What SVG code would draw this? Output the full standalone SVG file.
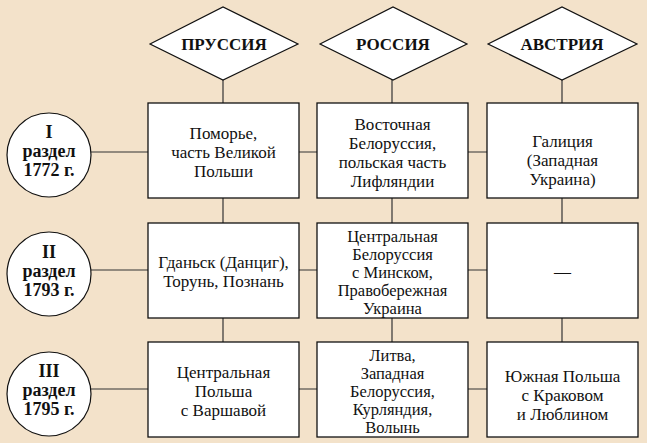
<svg xmlns="http://www.w3.org/2000/svg" width="647" height="443" viewBox="0 0 647 443">
<style>
.bg{fill:#F3E2CA}
.box{fill:#fff;stroke:#111;stroke-width:1.3}
.dia{fill:#fff;stroke:#111;stroke-width:1.2}
.cir{fill:#fff;stroke:#111;stroke-width:1.2}
.con line{stroke:#333;stroke-width:1.2}
.t{font-family:"Liberation Serif","Times New Roman",serif;font-size:17px;fill:#111;text-anchor:middle}
.s{font-size:16.5px}
.h{font-family:"Liberation Serif","Times New Roman",serif;font-size:17px;font-weight:bold;fill:#111;text-anchor:middle}
.c{font-family:"Liberation Serif","Times New Roman",serif;font-size:18px;font-weight:bold;fill:#111;text-anchor:middle}
</style>
<rect class="bg" x="0" y="0" width="647" height="443"/>
<g id="connectors" class="con">
<line x1="223" y1="80" x2="223" y2="342"/>
<line x1="392" y1="80" x2="392" y2="342"/>
<line x1="562" y1="80" x2="562" y2="342"/>
<line x1="91" y1="152" x2="487" y2="152"/>
<line x1="91" y1="270" x2="487" y2="270"/>
<line x1="91" y1="389" x2="487" y2="389"/>
</g>
<g id="prussia">
<polygon class="dia" points="150,44 223,7 298,44 223,80"/>
<text class="h" x="224" y="50">ПРУССИЯ</text>
</g>
<g id="russia">
<polygon class="dia" points="320,44 393,7 467,44 393,80"/>
<text class="h" x="393" y="50">РОССИЯ</text>
</g>
<g id="austria">
<polygon class="dia" points="488,44 562,7 637,44 562,80"/>
<text class="h" x="562" y="50">АВСТРИЯ</text>
</g>
<g id="partition1">
<circle class="cir" cx="49" cy="155" r="42"/>
<text class="c"><tspan x="49" y="138">I</tspan><tspan x="49" y="157">раздел</tspan><tspan x="49" y="176">1772 г.</tspan></text>
</g>
<g id="partition2">
<circle class="cir" cx="49" cy="274" r="42"/>
<text class="c"><tspan x="49" y="258">II</tspan><tspan x="49" y="277">раздел</tspan><tspan x="49" y="296">1793 г.</tspan></text>
</g>
<g id="partition3">
<circle class="cir" cx="49" cy="394" r="42"/>
<text class="c"><tspan x="49" y="377">III</tspan><tspan x="49" y="396">раздел</tspan><tspan x="49" y="415">1795 г.</tspan></text>
</g>
<g id="p1-prussia">
<rect class="box" x="148" y="103" width="151" height="95"/>
<text class="t"><tspan x="223.5" y="139">Поморье,</tspan><tspan x="223.5" y="158">часть Великой</tspan><tspan x="223.5" y="177">Польши</tspan></text>
</g>
<g id="p1-russia">
<rect class="box" x="317" y="103" width="151" height="95"/>
<text class="t"><tspan x="392.5" y="130">Восточная</tspan><tspan x="392.5" y="149">Белоруссия,</tspan><tspan x="392.5" y="168">польская часть</tspan><tspan x="392.5" y="187">Лифляндии</tspan></text>
</g>
<g id="p1-austria">
<rect class="box" x="487" y="103" width="151" height="95"/>
<text class="t"><tspan x="562.5" y="147">Галиция</tspan><tspan x="562.5" y="166">(Западная</tspan><tspan x="562.5" y="185">Украина)</tspan></text>
</g>
<g id="p2-prussia">
<rect class="box" x="148" y="223" width="151" height="95"/>
<text class="t"><tspan x="223.5" y="268">Гданьск (Данциг),</tspan><tspan x="223.5" y="287">Торунь, Познань</tspan></text>
</g>
<g id="p2-russia">
<rect class="box" x="317" y="223" width="151" height="95"/>
<text class="t s"><tspan x="392.5" y="242">Центральная</tspan><tspan x="392.5" y="260">Белоруссия</tspan><tspan x="392.5" y="278">с Минском,</tspan><tspan x="392.5" y="296">Правобережная</tspan><tspan x="392.5" y="314">Украина</tspan></text>
</g>
<g id="p2-austria">
<rect class="box" x="487" y="223" width="151" height="95"/>
<text class="t" x="562.5" y="277">—</text>
</g>
<g id="p3-prussia">
<rect class="box" x="148" y="342" width="151" height="95"/>
<text class="t"><tspan x="223.5" y="378">Центральная</tspan><tspan x="223.5" y="397">Польша</tspan><tspan x="223.5" y="416">с Варшавой</tspan></text>
</g>
<g id="p3-russia">
<rect class="box" x="317" y="342" width="151" height="95"/>
<text class="t s"><tspan x="392.5" y="361">Литва,</tspan><tspan x="392.5" y="379">Западная</tspan><tspan x="392.5" y="397">Белоруссия,</tspan><tspan x="392.5" y="415">Курляндия,</tspan><tspan x="392.5" y="433">Волынь</tspan></text>
</g>
<g id="p3-austria">
<rect class="box" x="487" y="342" width="151" height="95"/>
<text class="t"><tspan x="562.5" y="382">Южная Польша</tspan><tspan x="562.5" y="401">с Краковом</tspan><tspan x="562.5" y="420">и Люблином</tspan></text>
</g>
</svg>
